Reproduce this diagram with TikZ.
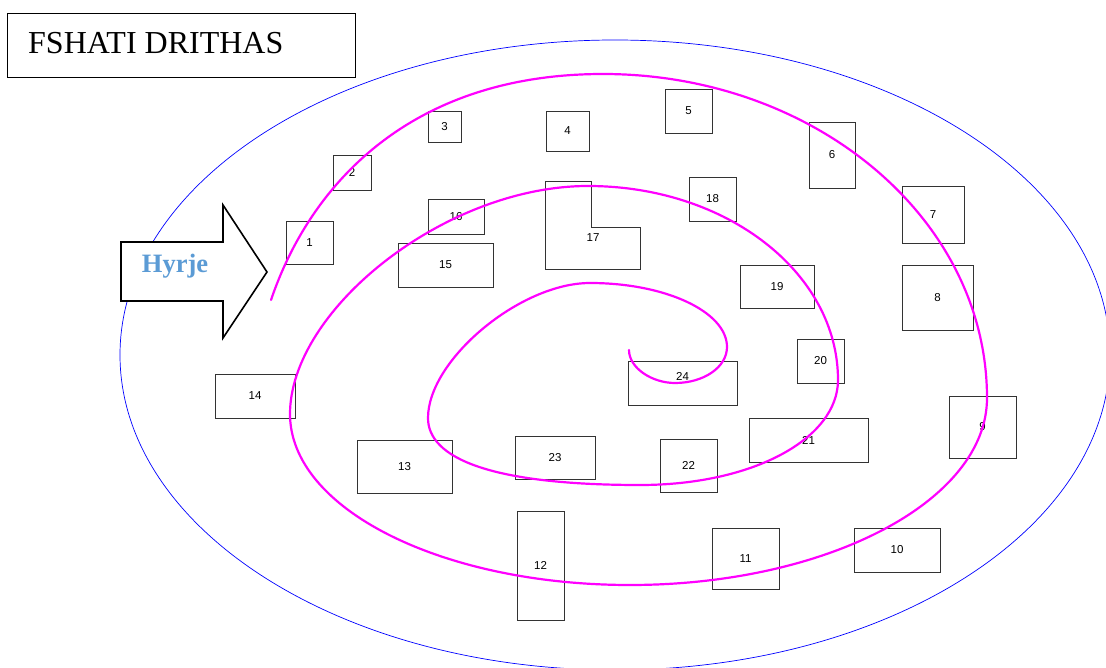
\documentclass[tikz,border=0pt]{standalone}
\usepackage{fontspec}
\setmainfont{Liberation Serif}
\setsansfont{Liberation Sans}
\definecolor{route}{RGB}{255,0,255}
\definecolor{entryblue}{RGB}{91,155,213}

\begin{document}
\begin{tikzpicture}[x=1pt,y=-1pt]
	\tikzstyle{every node}+=[inner sep=0pt]
	\tikzstyle{lotbox}=[draw=black!80, line width=0.9pt, font=\sffamily\fontsize{11.5}{13}\selectfont]
	\useasboundingbox (0,0) rectangle (1106,668);
	% village boundary
	\draw [blue, line width=0.7pt] (615,355) ellipse [x radius=495, y radius=315];
	% title
	\node (titlebox) [draw, line width=1.3pt, minimum width=348, minimum height=64, anchor=north west] at (7,13) {};
	\node (title) [anchor=base west, font=\fontsize{32}{36}\selectfont] at (28,54) {FSHATI DRITHAS};
	% entrance
	\draw [fill=white, line width=1.6pt, line join=miter] (121,242) -- (223,242) -- (223,205) -- (267,272) -- (223,338) -- (223,301) -- (121,301) -- cycle;
	\node (entry) [anchor=base, text=entryblue, font=\bfseries\fontsize{26.5}{30}\selectfont] at (175,273) {Hyrje};
	% lots
	\node (l1) [lotbox, minimum width=47, minimum height=43] at (309.5,242.5) {1};
	\node (l2) [lotbox, minimum width=38, minimum height=35] at (352,172.5) {2};
	\node (l3) [lotbox, minimum width=33, minimum height=31] at (444.5,126.5) {3};
	\node (l4) [lotbox, minimum width=43, minimum height=40] at (567.5,131) {4};
	\node (l5) [lotbox, minimum width=47, minimum height=44] at (688.5,111) {5};
	\node (l6) [lotbox, minimum width=46, minimum height=66] at (832,155) {6};
	\node (l7) [lotbox, minimum width=62, minimum height=57] at (933,214.5) {7};
	\node (l8) [lotbox, minimum width=71, minimum height=65] at (937.5,297.5) {8};
	\node (l9) [lotbox, minimum width=67, minimum height=62] at (982.5,427) {9};
	\node (l10) [lotbox, minimum width=86, minimum height=44] at (897,550) {10};
	\node (l11) [lotbox, minimum width=67, minimum height=61] at (745.5,558.5) {11};
	\node (l12) [lotbox, minimum width=47, minimum height=109] at (540.5,565.5) {12};
	\node (l13) [lotbox, minimum width=95, minimum height=53] at (404.5,466.5) {13};
	\node (l14) [lotbox, minimum width=80, minimum height=44] at (255,396) {14};
	\node (l15) [lotbox, minimum width=95, minimum height=44] at (445.5,265) {15};
	\node (l16) [lotbox, minimum width=56, minimum height=35] at (456,216.5) {16};
	\draw [draw=black!80, line width=0.9pt] (545,181) -- (591,181) -- (591,227) -- (640,227) -- (640,269) -- (545,269) -- cycle;
	\node (l17) [lotbox, draw=none] at (593,238) {17};
	\node (l18) [lotbox, minimum width=47, minimum height=44] at (712.5,199) {18};
	\node (l19) [lotbox, minimum width=74, minimum height=43] at (777,286.5) {19};
	\node (l20) [lotbox, minimum width=47, minimum height=44] at (820.5,361) {20};
	\node (l21) [lotbox, minimum width=119, minimum height=44] at (808.5,440) {21};
	\node (l22) [lotbox, minimum width=57, minimum height=53] at (688.5,465.5) {22};
	\node (l23) [lotbox, minimum width=80, minimum height=43] at (555,457.5) {23};
	\node (l24) [lotbox, minimum width=109, minimum height=44, text depth=14] at (682.5,383) {24};
	% route
	\draw [route, line width=2.2pt, line cap=round]
		(271,300) .. controls (310,185) and (410,74) .. (603,74)
		.. controls (814,74) and (987,218) .. (987,398)
		.. controls (987,501) and (827,585) .. (630,585)
		.. controls (442,585) and (290,509) .. (290,414)
		.. controls (290,310) and (445,186) .. (588,186)
		.. controls (727,186) and (838,273) .. (838,380)
		.. controls (838,438) and (754,485) .. (640,485)
		.. controls (490,485) and (428,458) .. (428,418)
		.. controls (428,360) and (520,283) .. (590,283)
		.. controls (666,283) and (727,312) .. (727,347)
		.. controls (727,367) and (704,383) .. (675,383)
		.. controls (652,383) and (629,368) .. (629,350);
\end{tikzpicture}
\end{document}
